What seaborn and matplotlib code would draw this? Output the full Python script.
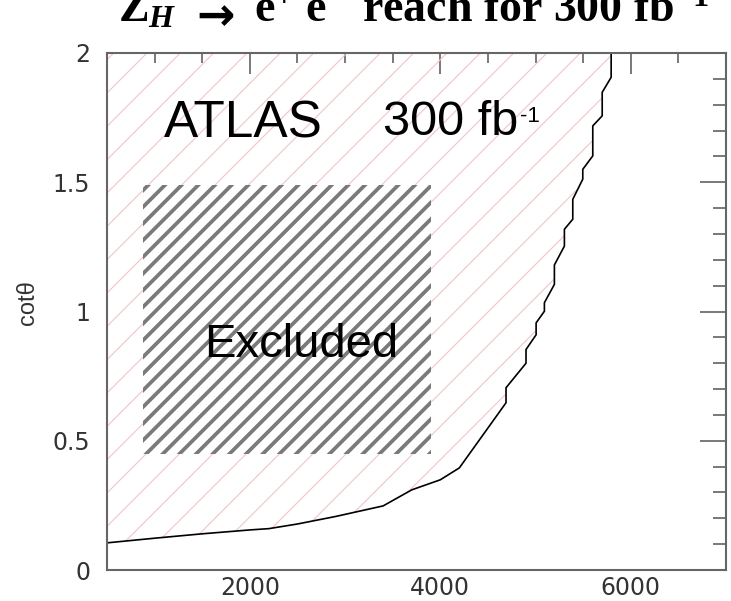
import matplotlib
matplotlib.use("Agg")
import matplotlib.pyplot as plt
import matplotlib as mpl
from matplotlib.ticker import MultipleLocator, FuncFormatter
import seaborn as sns
import pandas as pd

# ---- data ----
mass = [500, 1000, 1500, 2000, 2200, 2500, 2900, 3400, 3700, 4000, 4200,
        4690, 4690, 4900, 4900, 5006, 5006, 5093, 5093, 5198, 5198,
        5303, 5303, 5391, 5391, 5496, 5496, 5601, 5601, 5700, 5700, 5794, 5794]
cot_theta = [0.105, 0.123, 0.140, 0.155, 0.160, 0.178, 0.207, 0.248, 0.310, 0.349, 0.395,
             0.647, 0.705, 0.800, 0.853, 0.910, 0.956, 1.001, 1.034, 1.105, 1.180,
             1.253, 1.318, 1.357, 1.434, 1.512, 1.550, 1.602, 1.718, 1.757, 1.848, 1.906, 2.000]
excluded_x = [880, 3900]
excluded_y = [0.45, 1.49]
x_limits = [500, 7000]
y_limits = [0, 2]

# title: "Z_H → e+ e- reach for 300 fb-1" (cut off at the top edge, as in the reference)
title_parts = [r"$\mathrm{Z}_{H}$", "→", r"$\mathrm{e}^{+}\ \mathrm{e}^{-}$",
               r"reach for 300 fb$^{-1}$"]
y_label = "cotθ"
atlas_text = "ATLAS"
lumi_text = "300 fb"
lumi_sup = "-1"
excluded_text = "Excluded"

df = pd.DataFrame({"mass": mass, "cot": cot_theta})

sns.set_theme(style="white")
plt.rcParams["font.family"] = ["Liberation Sans", "DejaVu Sans"]
plt.rcParams["mathtext.fontset"] = "custom"
plt.rcParams["mathtext.rm"] = "Liberation Serif:bold"
plt.rcParams["mathtext.it"] = "Liberation Serif:bold:italic"
plt.rcParams["mathtext.bf"] = "Liberation Serif:bold"

W, H = 731, 601
fig = plt.figure(figsize=(W / 100, H / 100), dpi=100)
fig.patch.set_facecolor("white")
ax = fig.add_axes([107 / W, 1 - 570 / H, (726 - 107) / W, (570 - 53) / H])
ax.set_facecolor("white")

pink = "#f7c3c6"
gray = "#7a7a7a"

# pink hatched excluded area (above/left of the reach curve)
with mpl.rc_context({"hatch.color": pink, "hatch.linewidth": 0.8}):
    pc = ax.fill_between(df["mass"], df["cot"], y_limits[1], facecolor="none",
                         edgecolor=pink, hatch="/", linewidth=0, zorder=1)
    if hasattr(pc, "set_hatch_linewidth"):
        pc.set_hatch_linewidth(0.8)

# dense gray hatched "Excluded" box
with mpl.rc_context({"hatch.color": gray, "hatch.linewidth": 2.7}):
    rc = ax.fill_between(excluded_x, excluded_y[0], excluded_y[1], facecolor="white",
                         edgecolor=gray, hatch="//", linewidth=0, zorder=2)
    if hasattr(rc, "set_hatch_linewidth"):
        rc.set_hatch_linewidth(2.7)

sns.lineplot(data=df, x="mass", y="cot", estimator=None, sort=False,
             color="black", linewidth=1.2, ax=ax, zorder=3)

ax.set_xlim(*x_limits)
ax.set_ylim(*y_limits)
ax.set_xlabel("")
ax.set_ylabel(y_label, fontsize=17, color="#333333")
ax.yaxis.set_label_coords(-0.11, 0.518)

ax.xaxis.set_major_locator(MultipleLocator(2000))
ax.xaxis.set_minor_locator(MultipleLocator(500))
ax.yaxis.set_major_locator(MultipleLocator(0.5))
ax.yaxis.set_minor_locator(MultipleLocator(0.1))
fmt = FuncFormatter(lambda v, p: "%g" % v)
ax.xaxis.set_major_formatter(fmt)
ax.yaxis.set_major_formatter(fmt)

tick_col = "#555555"
ax.tick_params(axis="both", which="both", direction="in", top=True, right=True,
               color=tick_col, width=1.1, labelcolor="#333333", labelsize=17)
ax.tick_params(axis="y", which="major", length=18.5, pad=12)
ax.tick_params(axis="y", which="minor", length=9.5)
ax.tick_params(axis="x", which="major", length=15, pad=4)
ax.tick_params(axis="x", which="minor", length=7.5)
for lab in ax.get_xticklabels() + ax.get_yticklabels():
    lab.set_family(["DejaVu Sans"])
for s in ax.spines.values():
    s.set_color("#666666")
    s.set_linewidth(1.5)
    s.set_zorder(5)

# title pieces
serif = ["Liberation Serif", "DejaVu Serif"]
fig.text(118 / W, 1 - 22 / H, title_parts[0], fontsize=33, family=serif,
         fontweight="bold", ha="left", va="baseline", color="black")
fig.text(196 / W, 1 - 30 / H, title_parts[1], fontsize=33, family=["DejaVu Sans"],
         fontweight="bold", ha="left", va="baseline", color="black")
fig.text(254 / W, 1 - 22 / H, title_parts[2], fontsize=33, family=serif,
         fontweight="bold", ha="left", va="baseline", color="black")
fig.text(362 / W, 1 - 22 / H, title_parts[3], fontsize=33, family=serif,
         fontweight="bold", ha="left", va="baseline", color="black")

# annotations
fig.text(164 / W, 1 - 137 / H, atlas_text, fontsize=37, ha="left", va="baseline",
         color="black", zorder=6)
lt = fig.text(383 / W, 1 - 135 / H, lumi_text, fontsize=35, ha="left", va="baseline",
              color="black", zorder=6)
fig.canvas.draw()
bb = lt.get_window_extent()
fig.text((bb.x1 + 2) / W, 1 - 122 / H, lumi_sup, fontsize=16, ha="left",
         va="baseline", color="black", zorder=6)
fig.text(204 / W, 1 - 357 / H, excluded_text, fontsize=34, ha="left", va="baseline",
         color="black", zorder=6)

fig.savefig("out.png", dpi=100, facecolor="white")
